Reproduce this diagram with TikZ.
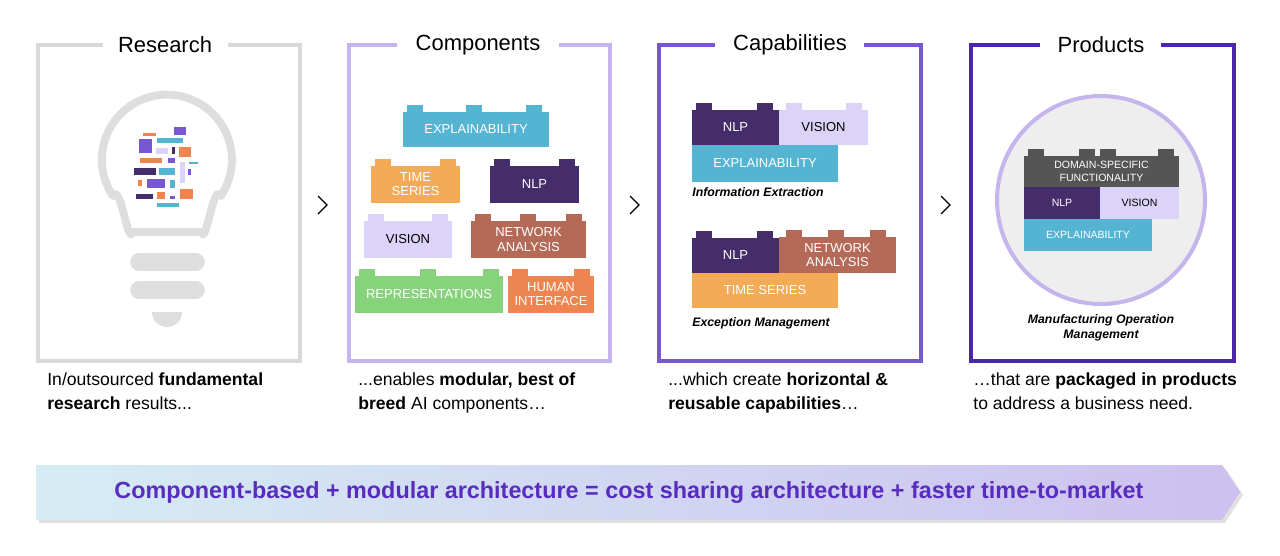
\documentclass[tikz,border=0pt]{standalone}
\usepackage{fontspec}
\setmainfont{Liberation Sans}
\usetikzlibrary{shadings}
\definecolor{cgray}{RGB}{217,217,217}
\definecolor{cboxa}{RGB}{196,181,236}
\definecolor{cboxb}{RGB}{119,87,210}
\definecolor{cboxc}{RGB}{74,37,176}
\definecolor{cexpl}{RGB}{86,180,211}
\definecolor{ctime}{RGB}{243,172,85}
\definecolor{cnlp}{RGB}{69,45,107}
\definecolor{cvision}{RGB}{220,211,248}
\definecolor{cnet}{RGB}{181,106,88}
\definecolor{crepr}{RGB}{135,211,124}
\definecolor{chuman}{RGB}{238,132,79}
\definecolor{cdomain}{RGB}{85,85,85}
\definecolor{cbanner}{RGB}{88,44,190}
\definecolor{cbulb}{RGB}{222,222,222}
% brick: name, x1, y1, x2, y2, colour, text colour, label, stud positions
\newcommand\brick[9]{%
  \fill[#6] (#2,#3) rectangle (#4,#5);
  \foreach \s in {#9} \fill[#6] (\s,#3) rectangle ++(16,-7);
  \node[brick, text=#7] (#1) at ({(#2+#4)/2},{(#3+#5)/2}) {#8};}
\begin{document}
\begin{tikzpicture}[x=0.02cm, y=-0.02cm,
  frame/.style={line width=2.3pt},
  title/.style={font=\fontsize{12.5}{14}\selectfont},
  brick/.style={font=\fontsize{7.4}{8}\selectfont, align=center, inner sep=0pt},
  caption/.style={font=\fontsize{10}{14}\selectfont, align=left, anchor=north west, inner sep=0pt},
  usecase/.style={font=\fontsize{7}{8.5}\selectfont\bfseries\itshape, align=center, inner sep=0pt},
  chevron/.style={line width=0.7pt}]
\useasboundingbox (0,0) rectangle (1280,555);
% frames
\draw[frame, cgray] (103,45) -- (38,45) -- (38,361) -- (300,361) -- (300,45) -- (228,45);
\draw[frame, cboxa] (397,45) -- (349,45) -- (349,361) -- (610,361) -- (610,45) -- (559,45);
\draw[frame, cboxb] (715,45) -- (659,45) -- (659,361) -- (921,361) -- (921,45) -- (864,45);
\draw[frame, cboxc] (1040,45) -- (971,45) -- (971,361) -- (1234,361) -- (1234,45) -- (1161,45);
\node[title] (research) at (165,45) {Research};
\node[title] (components) at (478,45) {Components};
\node[title] (capabilities) at (790,45) {Capabilities};
\node[title] (products) at (1101,45) {Products};
% chevrons
\foreach \cx in {322,634,945}
  \draw[chevron] (\cx-4,196) -- (\cx+5,205) -- (\cx-4,214);
% bulb
\draw[cbulb, line width=4.5pt, line join=round] (133,232) to[out=-110, in=60] (113,196)
  arc[start angle=146, delta angle=248, radius=65] to[out=120, in=-70] (201,232) -- cycle;
\draw[cbulb, line width=10pt, line cap=round] (139,262) -- (196,262);
\draw[cbulb, line width=10pt, line cap=round] (139,290) -- (196,290);
\fill[cbulb] (182,312) arc[start angle=0, end angle=180, radius=15] -- cycle;
\foreach \a/\b/\c/\d/\col in {143/133/156/136/chuman, 174/127/186/135/cboxb, 139/139/152/153/cboxb,
  157/138/183/143/cexpl, 156/148/168/154/cvision, 172/147/175/154/cnlp, 179/147/191/157/chuman,
  140/158/162/163/chuman, 168/158/175/163/cboxb, 189/162/198/164/cexpl, 180/162/185/183/cvision,
  134/168/156/175/cnlp, 159/168/175/175/cexpl, 188/169/191/175/cboxb, 138/180/142/186/chuman,
  147/179/165/188/cboxb, 170/180/175/188/cexpl, 136/194/153/199/cnlp, 157/192/165/199/chuman,
  170/196/175/199/cboxb, 180/189/193/199/chuman, 157/203/179/207/cexpl}
  \fill[\col] (\a,\b) rectangle (\c,\d);
% components
\brick{cexpl1}{403}{112}{549}{147}{cexpl}{white}{EXPLAINABILITY}{407,466,526}
\brick{ctime1}{371}{166}{460}{203}{ctime}{white}{TIME\\SERIES}{375,440}
\brick{cnlp1}{490}{166}{579}{203}{cnlp}{white}{NLP}{494,559}
\brick{cvis1}{364}{221}{452}{258}{cvision}{black}{VISION}{368,432}
\brick{cnet1}{471}{221}{586}{258}{cnet}{white}{NETWORK\\ANALYSIS}{475,520,566}
\brick{crepr1}{355}{276}{503}{313}{crepr}{white}{REPRESENTATIONS}{359,420,483}
\brick{chum1}{508}{276}{594}{313}{chuman}{white}{HUMAN\\INTERFACE}{512,574}
% capabilities
\brick{knlp1}{692}{110}{779}{145}{cnlp}{white}{NLP}{696,757}
\brick{kvis1}{779}{110}{868}{145}{cvision}{black}{VISION}{786,846}
\brick{kexpl1}{692}{145}{838}{182}{cexpl}{white}{EXPLAINABILITY}{}
\node[usecase, anchor=west] (infoext) at (692,192) {Information Extraction};
\brick{knlp2}{692}{238}{779}{273}{cnlp}{white}{NLP}{696,757}
\brick{knet2}{779}{237}{896}{273}{cnet}{white}{NETWORK\\ANALYSIS}{786,828,870}
\brick{ktime2}{692}{273}{838}{308}{ctime}{white}{TIME SERIES}{}
\node[usecase, anchor=west] (excmgmt) at (692,323) {Exception Management};
% products
\draw[cboxa, fill=cbulb!50, line width=2.3pt] (1101,200) circle[radius=104];
\brick{pdom}{1024}{156}{1179}{187}{cdomain}{white}{\fontsize{6}{6.8}\selectfont DOMAIN-SPECIFIC\\[-1pt]\fontsize{6}{6.8}\selectfont FUNCTIONALITY}{1028,1079,1100,1158}
\brick{pnlp}{1024}{187}{1100}{219}{cnlp}{white}{\fontsize{6}{7}\selectfont NLP}{}
\brick{pvis}{1100}{187}{1179}{219}{cvision}{black}{\fontsize{6}{7}\selectfont VISION}{}
\brick{pexpl}{1024}{219}{1152}{251}{cexpl}{white}{\fontsize{6}{7}\selectfont EXPLAINABILITY}{}
\node[usecase] (mom) at (1101,328) {Manufacturing Operation\\Management};
% captions
\node[caption] (capa) at (47,372) {In/outsourced \textbf{fundamental}\\\textbf{research} results...};
\node[caption] (capb) at (358,372) {...enables \textbf{modular, best of}\\\textbf{breed} AI components…};
\node[caption] (capc) at (668,372) {...which create \textbf{horizontal \&}\\\textbf{reusable capabilities}…};
\node[caption] (capd) at (973,372) {…that are \textbf{packaged in products}\\to address a business need.};
% banner
\fill[black!12] (39,468) -- (1225,468) -- (1243,495) -- (1225,523) -- (39,523) -- cycle;
\shade[left color=cexpl!25, right color=cboxa!85] (36,465) -- (1222,465) -- (1240,492) -- (1222,520) -- (36,520) -- cycle;
\node[font=\fontsize{13.3}{15}\selectfont\bfseries, text=cbanner] (banner) at (629,492)
  {Component-based + modular architecture = cost sharing architecture + faster time-to-market};
\end{tikzpicture}
\end{document}
